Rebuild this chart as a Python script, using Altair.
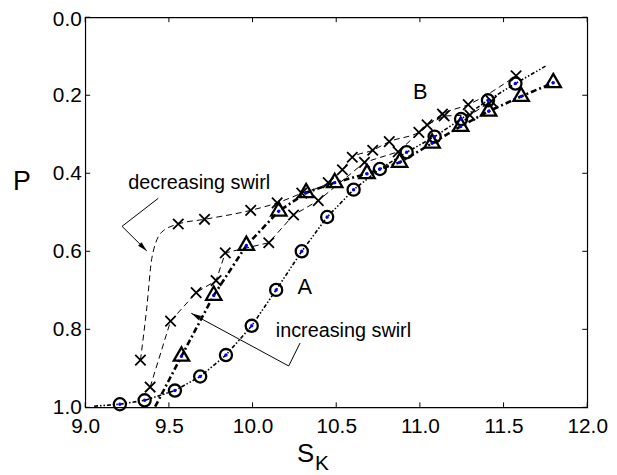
import altair as alt
import pandas as pd

# ---------------- data ----------------
# Series A: open circles, dash-dot-dot line
circle_s = [9.207, 9.355, 9.536, 9.687, 9.841, 9.995, 10.141, 10.294, 10.446,
            10.604, 10.761, 10.921, 11.088, 11.246, 11.407, 11.571]
circle_p = [0.992, 0.982, 0.957, 0.921, 0.866, 0.791, 0.699, 0.600, 0.512,
            0.442, 0.389, 0.346, 0.306, 0.261, 0.213, 0.170]
circle_line_start_s, circle_line_start_p = 9.053, 0.997
circle_line_end_s, circle_line_end_p = 11.752, 0.125

# Series B: open triangles, bold dash-dot line
tri_s = [9.575, 9.768, 9.963, 10.157, 10.320, 10.491, 10.684, 10.879, 11.073,
         11.244, 11.411, 11.605, 11.797]
tri_p = [0.869, 0.713, 0.585, 0.497, 0.450, 0.424, 0.401, 0.372, 0.323,
         0.280, 0.241, 0.203, 0.168]
tri_line_start_s, tri_line_start_p = 9.418, 0.998

# Crosses, series 1 ("decreasing swirl" branch)
x1_s = [9.330, 9.556, 9.713, 9.989, 10.147, 10.294, 10.452, 10.537, 10.596,
        10.718, 10.817, 10.994, 11.135, 11.289, 11.575]
x1_p = [0.879, 0.530, 0.518, 0.495, 0.476, 0.451, 0.424, 0.391, 0.359,
        0.341, 0.319, 0.295, 0.248, 0.224, 0.150]
# extra points of the bend between the first two crosses (line only)
x1_bend_s = [9.368, 9.398, 9.457]
x1_bend_p = [0.744, 0.618, 0.551]

# Crosses, series 2
x2_s = [9.388, 9.510, 9.663, 9.782, 9.837, 10.097, 10.245, 10.393, 10.669,
        10.870, 11.043, 11.145, 11.299, 11.427]
x2_p = [0.948, 0.779, 0.706, 0.675, 0.604, 0.578, 0.507, 0.470, 0.372,
        0.345, 0.276, 0.253, 0.251, 0.215]

# annotation texts
label_text = ["B", "A", "decreasing swirl", "increasing swirl"]
label_s = [11.003, 10.312, 9.681, 10.543]
label_p = [0.209, 0.709, 0.441, 0.820]
label_fs = [22, 22, 20, 20]

# arrows (polyline vertices, the last one is the tip)
arrow1_s = [9.437, 9.220, 9.368]
arrow1_p = [0.464, 0.536, 0.599]
arrow2_s = [10.284, 10.216, 9.634]
arrow2_p = [0.835, 0.894, 0.759]
arrow_tip_angle = [135, 299]

x_ticks = [9.0, 9.5, 10.0, 10.5, 11.0, 11.5, 12.0]
y_ticks = [0.0, 0.2, 0.4, 0.6, 0.8, 1.0]

# ---------------- tables ----------------
W, H = 507, 394
FONT = "Liberation Sans"

circles = pd.DataFrame({"s": circle_s, "p": circle_p})
circle_line = pd.DataFrame({
    "s": [circle_line_start_s] + circle_s + [circle_line_end_s],
    "p": [circle_line_start_p] + circle_p + [circle_line_end_p]})
circle_line["i"] = range(len(circle_line))

tris = pd.DataFrame({"s": tri_s, "p": tri_p})
tri_line = pd.DataFrame({"s": [tri_line_start_s] + tri_s,
                         "p": [tri_line_start_p] + tri_p})
tri_line["i"] = range(len(tri_line))

x1 = pd.DataFrame({"s": x1_s, "p": x1_p})
x1_line = pd.DataFrame({"s": x1_s[:1] + x1_bend_s + x1_s[1:],
                        "p": x1_p[:1] + x1_bend_p + x1_p[1:]})
x1_line["i"] = range(len(x1_line))
x2 = pd.DataFrame({"s": x2_s, "p": x2_p})
x2_line = x2.copy()
x2_line["i"] = range(len(x2_line))

labels = pd.DataFrame({"s": label_s, "p": label_p, "t": label_text, "fs": label_fs})

arrows = pd.DataFrame({
    "s": arrow1_s + arrow2_s, "p": arrow1_p + arrow2_p,
    "a": ["a1"] * 3 + ["a2"] * 3, "i": [0, 1, 2, 0, 1, 2]})
tips = pd.DataFrame({"s": [arrow1_s[-1], arrow2_s[-1]],
                     "p": [arrow1_p[-1], arrow2_p[-1]],
                     "ang": arrow_tip_angle})

xt = pd.DataFrame({"s": x_ticks})
yt = pd.DataFrame({"p": y_ticks})

xsc = alt.Scale(domain=[9, 12], nice=False, zero=False)
ysc = alt.Scale(domain=[0, 1], reverse=True, nice=False, zero=False)

x_axis = alt.Axis(values=x_ticks, format=".1f", title="S", grid=False,
                  ticks=False, tickSize=0, domain=False, labelFlush=False,
                  labelFont=FONT, labelFontSize=21, labelColor="black",
                  labelPadding=8, titleFont=FONT, titleFontSize=26,
                  titleFontWeight="normal", titleColor="black",
                  titleX=222, titleY=55, titleAlign="center",
                  titleBaseline="alphabetic")
y_axis = alt.Axis(values=y_ticks, format=".1f", title="P", grid=False,
                  ticks=False, tickSize=0, domain=False, labelFlush=False,
                  labelFont=FONT, labelFontSize=21, labelColor="black",
                  labelPadding=4,
                  labelOffset={"condition": {"test": "datum.value === 0",
                                             "value": 2},
                               "value": 0},
                  titleFont=FONT,
                  titleFontSize=27, titleFontWeight="normal",
                  titleColor="black", titleAngle=0, titleX=-64.5,
                  titleY=166, titleAlign="center", titleBaseline="middle")

X = alt.X("s:Q", scale=xsc, axis=x_axis, title="S")
Y = alt.Y("p:Q", scale=ysc, axis=y_axis, title="P")

xt_bottom = alt.Chart(xt).mark_rule(color="black", strokeWidth=1).encode(
    x=X, y=alt.value(H), y2=alt.value(H - 5))
xt_top = alt.Chart(xt).mark_rule(color="black", strokeWidth=1).encode(
    x=X, y=alt.value(0), y2=alt.value(5))
yt_left = alt.Chart(yt).mark_rule(color="black", strokeWidth=1).encode(
    y=Y, x=alt.value(0), x2=alt.value(5))
yt_right = alt.Chart(yt).mark_rule(color="black", strokeWidth=1).encode(
    y=Y, x=alt.value(W), x2=alt.value(W - 5))

line_x1 = alt.Chart(x1_line).mark_line(
    color="black", strokeWidth=1, strokeDash=[6, 4], interpolate="monotone"
).encode(x=X, y=Y, order="i:Q")
line_x2 = alt.Chart(x2_line).mark_line(
    color="black", strokeWidth=1, strokeDash=[6, 4]
).encode(x=X, y=Y, order="i:Q")
line_tri = alt.Chart(tri_line).mark_line(
    color="black", strokeWidth=2.6, strokeDash=[6, 3, 2, 3]
).encode(x=X, y=Y, order="i:Q")
line_circ = alt.Chart(circle_line).mark_line(
    color="black", strokeWidth=1.6, strokeDash=[4, 2, 1.5, 2, 1.5, 2]
).encode(x=X, y=Y, order="i:Q")

XSHAPE = "M-1,-1L1,1M-1,1L1,-1"
TRI = "M0,-1.155L1,0.577L-1,0.577Z"
pts_x1 = alt.Chart(x1).mark_point(shape=XSHAPE, size=110, strokeWidth=1.8,
                                  color="black", filled=False, opacity=1
                                  ).encode(x=X, y=Y)
pts_x2 = alt.Chart(x2).mark_point(shape=XSHAPE, size=110, strokeWidth=1.8,
                                  color="black", filled=False, opacity=1
                                  ).encode(x=X, y=Y)
pts_tri = alt.Chart(tris).mark_point(shape=TRI, size=240, strokeWidth=2.3,
                                     color="black", filled=False, opacity=1
                                     ).encode(x=X, y=Y)
pts_circ = alt.Chart(circles).mark_point(shape="circle", size=150,
                                         strokeWidth=2.3, color="black",
                                         filled=False, opacity=1
                                         ).encode(x=X, y=Y)
dots = alt.Chart(pd.concat([circles, tris])).mark_circle(
    size=12, color="#0000ff", opacity=1).encode(x=X, y=Y)

arrow_lines = alt.Chart(arrows).mark_line(color="black", strokeWidth=1).encode(
    x=X, y=Y, detail="a:N", order="i:Q")
arrow_tips = alt.Chart(tips).mark_point(
    shape="M0,0L-0.25,1L0.25,1Z", size=400, filled=True, color="black",
    opacity=1, strokeWidth=0).encode(
    x=X, y=Y, angle=alt.Angle("ang:Q", scale=None))

texts = alt.Chart(labels).mark_text(font=FONT, color="black", align="center",
                                    baseline="alphabetic").encode(
    x=X, y=Y, text="t:N", size=alt.Size("fs:Q", scale=None))

sub_k = alt.Chart(pd.DataFrame({"t": ["K"]})).mark_text(
    font=FONT, fontSize=21, color="black", align="center",
    baseline="alphabetic").encode(x=alt.value(239), y=alt.value(457), text="t:N")

chart = alt.layer(
    xt_bottom, xt_top, yt_left, yt_right,
    line_x1, line_x2, line_tri, line_circ,
    pts_x1, pts_x2, pts_tri, pts_circ, dots,
    arrow_lines, arrow_tips, texts, sub_k
).properties(
    width=W, height=H,
    autosize=alt.AutoSizeParams(type="none"),
    padding={"left": 78, "top": 7, "right": 22, "bottom": 65},
    background="white"
).configure_view(stroke="black", strokeWidth=1.2)

chart.save("out.html", embed_options={"renderer": "svg", "actions": False})
